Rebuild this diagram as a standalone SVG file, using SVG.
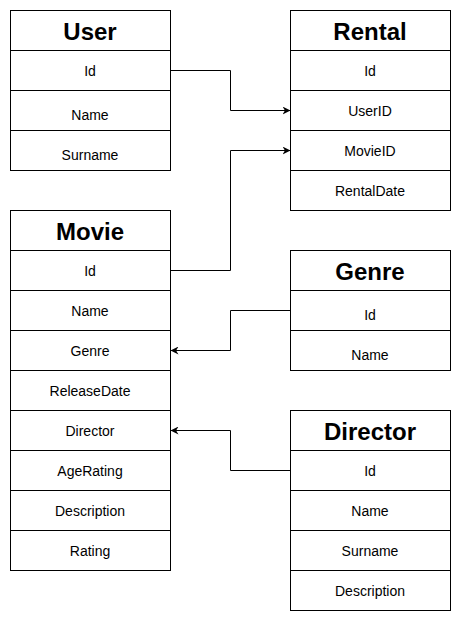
<svg xmlns="http://www.w3.org/2000/svg" width="463" height="621" viewBox="0 0 463 621">
<style>
.box{fill:#fff;stroke:#000;stroke-width:1}
.h{font-family:"Liberation Sans",Arial,sans-serif;font-size:24px;font-weight:bold;text-anchor:middle;dominant-baseline:central}
.t{font-family:"Liberation Sans",Arial,sans-serif;font-size:14px;text-anchor:middle;dominant-baseline:central}
.c{fill:none;stroke:#000;stroke-width:1}
</style>
<defs>
<marker id="a" viewBox="0 0 10 10" refX="10" refY="5" markerWidth="8" markerHeight="8" orient="auto" markerUnits="userSpaceOnUse">
<path d="M0,0 L10,5 L0,10 L3,5 Z" fill="#000"/>
</marker>
</defs>
<rect width="463" height="621" fill="#fff"/>
<g id="user">
<rect class="box" x="10.5" y="10.5" width="160" height="160"/>
<path class="c" d="M10.5,50.5H170.5M10.5,90.5H170.5M10.5,130.5H170.5"/>
<text class="h" x="90" y="31.5">User</text>
<text class="t" x="90" y="71">Id</text>
<text class="t" x="90" y="115">Name</text>
<text class="t" x="90" y="155">Surname</text>
</g>
<g id="rental">
<rect class="box" x="290.5" y="10.5" width="160" height="200"/>
<path class="c" d="M290.5,50.5H450.5M290.5,90.5H450.5M290.5,130.5H450.5M290.5,170.5H450.5"/>
<text class="h" x="370" y="31.5">Rental</text>
<text class="t" x="370" y="71">Id</text>
<text class="t" x="370" y="111">UserID</text>
<text class="t" x="370" y="151">MovieID</text>
<text class="t" x="370" y="191">RentalDate</text>
</g>
<g id="movie">
<rect class="box" x="10.5" y="210.5" width="160" height="360"/>
<path class="c" d="M10.5,250.5H170.5M10.5,290.5H170.5M10.5,330.5H170.5M10.5,370.5H170.5M10.5,410.5H170.5M10.5,450.5H170.5M10.5,490.5H170.5M10.5,530.5H170.5"/>
<text class="h" x="90" y="231.5">Movie</text>
<text class="t" x="90" y="271">Id</text>
<text class="t" x="90" y="311">Name</text>
<text class="t" x="90" y="351">Genre</text>
<text class="t" x="90" y="391">ReleaseDate</text>
<text class="t" x="90" y="431">Director</text>
<text class="t" x="90" y="471">AgeRating</text>
<text class="t" x="90" y="511">Description</text>
<text class="t" x="90" y="551">Rating</text>
</g>
<g id="genre">
<rect class="box" x="290.5" y="250.5" width="160" height="120"/>
<path class="c" d="M290.5,290.5H450.5M290.5,330.5H450.5"/>
<text class="h" x="370" y="271.5">Genre</text>
<text class="t" x="370" y="315">Id</text>
<text class="t" x="370" y="355">Name</text>
</g>
<g id="director">
<rect class="box" x="290.5" y="410.5" width="160" height="200"/>
<path class="c" d="M290.5,450.5H450.5M290.5,490.5H450.5M290.5,530.5H450.5M290.5,570.5H450.5"/>
<text class="h" x="370" y="431.5">Director</text>
<text class="t" x="370" y="471">Id</text>
<text class="t" x="370" y="511">Name</text>
<text class="t" x="370" y="551">Surname</text>
<text class="t" x="370" y="591">Description</text>
</g>
<g id="connectors">
<path class="c" d="M170.5,70.5H230.5V110.5H290.5" marker-end="url(#a)"/>
<path class="c" d="M170.5,270.5H230.5V150.5H290.5" marker-end="url(#a)"/>
<path class="c" d="M290.5,310.5H230.5V350.5H170.5" marker-end="url(#a)"/>
<path class="c" d="M290.5,470.5H230.5V430.5H170.5" marker-end="url(#a)"/>
</g>
</svg>
